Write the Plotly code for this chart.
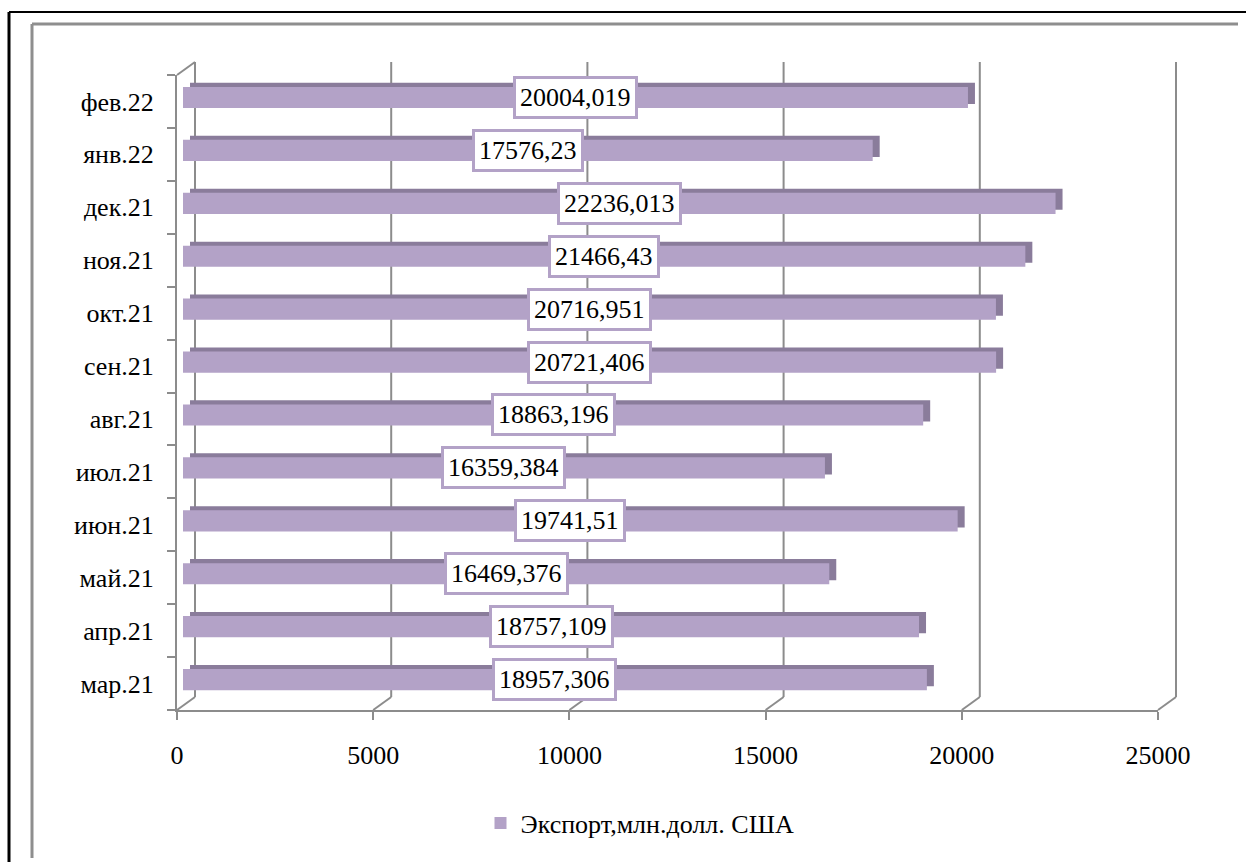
import plotly.graph_objects as go

# ---- data ----
months = ["мар.21", "апр.21", "май.21", "июн.21", "июл.21", "авг.21",
          "сен.21", "окт.21", "ноя.21", "дек.21", "янв.22", "фев.22"]
export_values = [18957.306, 18757.109, 16469.376, 19741.51, 16359.384, 18863.196,
                 20721.406, 20716.951, 21466.43, 22236.013, 17576.23, 20004.019]
series_name = "Экспорт,млн.долл. США"
x_ticks = [0, 5000, 10000, 15000, 20000, 25000]
x_tick_text = ["0", "5000", "10000", "15000", "20000", "25000"]

# ---- styling / layout constants ----
W, H = 1246, 862
FONT = "Times New Roman, Liberation Serif, DejaVu Serif, serif"
FS = 26
FACE = "#B3A2C7"
DARK = "#8A7C9B"
GRAY = "#8C8C8C"
XMAX = 25000

# front plane (pixels)
FX0, FX1 = 177, 1158
FY0, FY1 = 75, 710
# depth offset of the back wall
DX, DY = 18, -13
# bar front face depth offset
BX, BY = 6, -4
# bar top/side depth
SX, SY = 7, -4


def px(x):
    return x / W


def py(y):
    return 1 - y / H


labels = [f"{v}".replace(".", ",") for v in export_values]

fig = go.Figure()

# darker "depth" of the bars (top & side faces) - drawn first (subplot x2y2)
fig.add_trace(go.Bar(
    x=export_values, y=months, orientation="h", xaxis="x2", yaxis="y2",
    marker=dict(color=DARK, line=dict(width=0)), width=0.4,
    showlegend=False, hoverinfo="skip"))

# front faces of the bars (subplot x3y3, drawn on top)
fig.add_trace(go.Bar(
    x=export_values, y=months, orientation="h", xaxis="x3", yaxis="y3",
    marker=dict(color=FACE, line=dict(width=0)), width=0.4,
    name=series_name, showlegend=True))

# invisible trace carrying the front axes (ticks and labels)
fig.add_trace(go.Scatter(
    x=[0] * len(months), y=months, mode="markers", xaxis="x", yaxis="y",
    marker=dict(opacity=0), showlegend=False, hoverinfo="skip"))

ax_common = dict(showgrid=False, zeroline=False, fixedrange=True, automargin=False)
cat_common = dict(type="category", categoryorder="array", categoryarray=months,
                  range=[-0.5, len(months) - 0.5])
fig.update_layout(
    template="none",
    width=W, height=H, autosize=False,
    margin=dict(l=0, r=0, t=0, b=0, pad=0, autoexpand=False),
    paper_bgcolor="white", plot_bgcolor="rgba(0,0,0,0)",
    font=dict(family=FONT, size=FS, color="black"),
    xaxis=dict(domain=[px(FX0), px(FX1)], range=[0, XMAX], tickvals=x_ticks,
               ticktext=x_tick_text,
               ticks="outside", ticklen=8, tickwidth=2, tickcolor=GRAY,
               showline=True, linecolor=GRAY, linewidth=2, anchor="y",
               ticklabelstandoff=13, tickfont=dict(family=FONT, size=FS, color="black"),
               **ax_common),
    yaxis=dict(domain=[py(FY1), py(FY0)], tickson="boundaries",
               ticks="outside", ticklen=8, tickwidth=2, tickcolor=GRAY,
               showline=True, linecolor=GRAY, linewidth=2, anchor="x",
               ticklabelstandoff=16, tickfont=dict(family=FONT, size=FS, color="black"),
               **cat_common, **ax_common),
    # dark depth bars: shifted right/up from the face bars
    xaxis2=dict(domain=[px(FX0 + BX + SX), px(FX1 + BX + SX)], range=[0, XMAX],
                visible=False, anchor="y2", **ax_common),
    yaxis2=dict(domain=[py(FY1 + BY + SY), py(FY0 + BY + SY)], visible=False,
                anchor="x2", **cat_common, **ax_common),
    # front faces of bars
    xaxis3=dict(domain=[px(FX0 + BX), px(FX1 + BX)], range=[0, XMAX],
                visible=False, anchor="y3", **ax_common),
    yaxis3=dict(domain=[py(FY1 + BY), py(FY0 + BY)], visible=False,
                anchor="x3", **cat_common, **ax_common),
    legend=dict(orientation="h", x=px(640), xanchor="center",
                y=py(823), yanchor="middle",
                font=dict(family=FONT, size=FS, color="black"),
                bgcolor="rgba(0,0,0,0)"),
)

shapes = []
line_g = dict(color=GRAY, width=2)
# back wall vertical gridlines and floor diagonals
for t in x_ticks:
    xf = FX0 + t / XMAX * (FX1 - FX0)
    xb = xf + DX
    shapes.append(dict(type="line", xref="paper", yref="paper",
                       x0=px(xb), x1=px(xb), y0=py(FY1 + DY), y1=py(FY0 + DY),
                       line=line_g, layer="below"))
    shapes.append(dict(type="line", xref="paper", yref="paper",
                       x0=px(xf), x1=px(xb), y0=py(FY1), y1=py(FY1 + DY),
                       line=line_g, layer="below"))
# left wall top diagonal
shapes.append(dict(type="line", xref="paper", yref="paper",
                   x0=px(FX0), x1=px(FX0 + DX), y0=py(FY0), y1=py(FY0 + DY),
                   line=line_g, layer="below"))
# chart area border (gray) and page frame (black)
shapes.append(dict(type="line", xref="paper", yref="paper",
                   x0=px(32), x1=px(1238), y0=py(24), y1=py(24),
                   line=dict(color="#8E8E8E", width=3), layer="below"))
shapes.append(dict(type="line", xref="paper", yref="paper",
                   x0=px(32), x1=px(32), y0=py(24), y1=py(858),
                   line=dict(color="#8E8E8E", width=3), layer="below"))
shapes.append(dict(type="line", xref="paper", yref="paper",
                   x0=px(9), x1=1, y0=py(12), y1=py(12),
                   line=dict(color="black", width=2), layer="below"))
shapes.append(dict(type="line", xref="paper", yref="paper",
                   x0=px(9), x1=px(9), y0=py(12), y1=0,
                   line=dict(color="black", width=3), layer="below"))
fig.update_layout(shapes=shapes)

# data labels
annotations = []
for m, v, lab in zip(months, export_values, labels):
    annotations.append(dict(
        x=v / 2, y=m, xref="x3", yref="y3", text=lab, showarrow=False,
        font=dict(family=FONT, size=FS, color="black"),
        bgcolor="white", bordercolor=FACE, borderwidth=3, borderpad=4))
fig.update_layout(annotations=annotations)

fig.write_html(
    "out.html",
    config={"displayModeBar": False},
    post_script="document.body.style.margin='0';document.body.style.overflow='hidden';")
